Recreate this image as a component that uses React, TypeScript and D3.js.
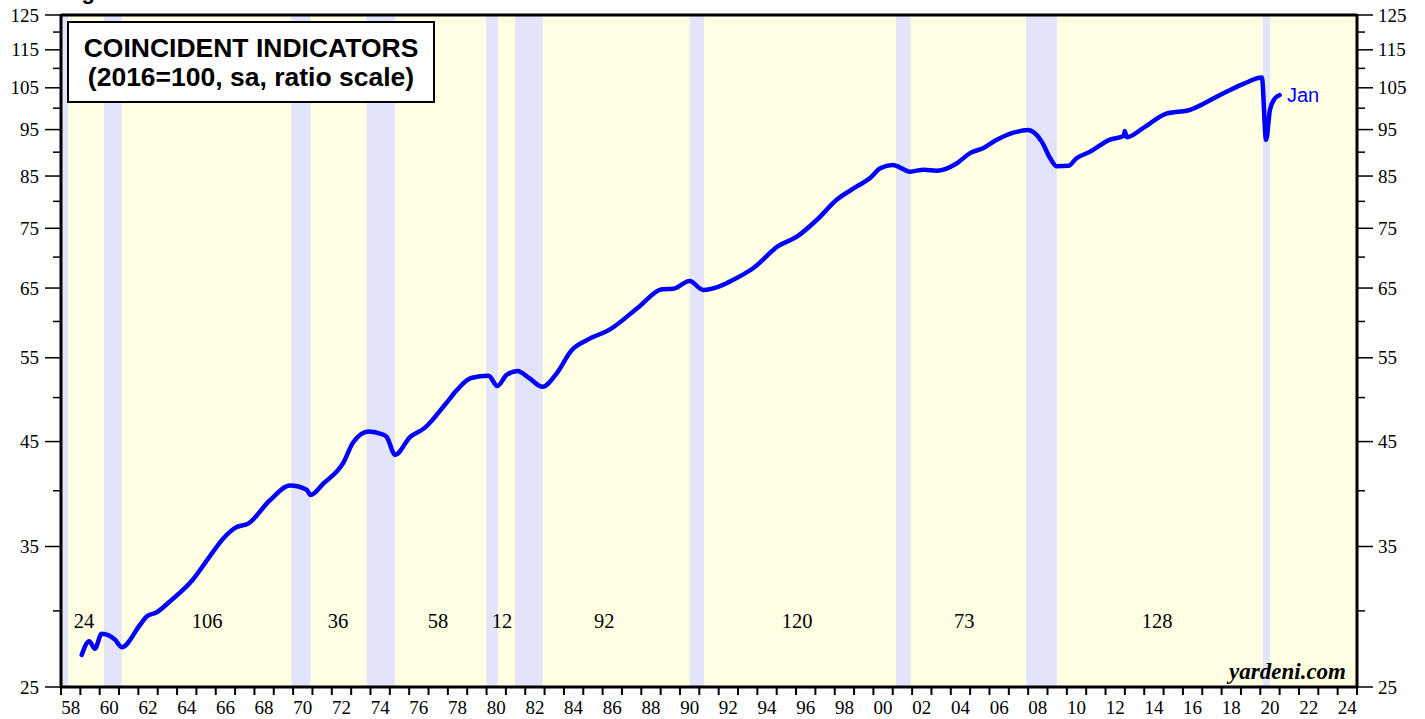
import React from 'react';
import * as d3 from 'd3';

const W = 1425;
const H = 719;
const M = { left: 61, right: 1357, top: 15, bottom: 687 };

// coincident index (decimal year, index)
const years = [
  1959.07, 1959.46, 1959.75, 1960.1, 1960.79, 1961.14, 1962.08, 1962.43, 1962.95, 1963.64,
  1964.8, 1965.7, 1966.4, 1967.0, 1967.7, 1968.8, 1969.84, 1970.7, 1970.9, 1971.56,
  1972.6, 1973.1, 1973.9, 1974.6, 1974.84, 1975.27, 1976.05, 1976.8, 1977.9, 1978.46,
  1979.2, 1980.1, 1980.56, 1981.04, 1981.6, 1982.2, 1982.9, 1983.6, 1984.4, 1985.2,
  1986.4, 1987.9, 1989.06, 1989.66, 1990.5, 1991.2, 1992.07, 1992.76, 1993.8, 1995.09,
  1996.04, 1997.07, 1998.1, 1999.14, 1999.83, 2000.35, 2001.0, 2001.9, 2002.6, 2003.28,
  2004.3, 2005.0, 2005.69, 2006.38, 2007.24, 2008.0, 2008.7, 2009.14, 2009.48, 2010.08,
  2010.5, 2011.2, 2012.2, 2012.95, 2012.99, 2013.1, 2013.96, 2015.08, 2016.37, 2017.92,
  2019.13, 2020.08, 2020.3, 2020.5, 2020.76, 2021.0,
];
const values = [
  27.0, 27.9, 27.4, 28.4, 28.0, 27.5, 29.0, 29.6, 29.9, 30.7,
  32.3, 34.2, 35.7, 36.6, 37.0, 39.1, 40.5, 40.1, 39.6, 40.7,
  42.8, 44.9, 46.1, 45.8, 45.5, 43.6, 45.5, 46.5, 49.3, 50.9,
  52.4, 52.7, 51.4, 52.8, 53.3, 52.4, 51.3, 52.9, 56.0, 57.4,
  58.9, 62.2, 64.8, 64.9, 66.1, 64.7, 65.3, 66.3, 68.2, 71.9,
  73.5, 76.5, 80.3, 82.9, 84.6, 86.6, 87.3, 85.9, 86.3, 86.1,
  87.6, 89.8, 90.9, 92.7, 94.3, 94.9, 92.3, 88.7, 87.0, 87.1,
  88.7, 90.1, 92.7, 93.6, 94.7, 93.3, 95.4, 98.6, 99.6, 103.2,
  106.0, 107.6, 92.7, 99.6, 102.4, 103.2,
];

const recessionStart = [1957.58, 1960.22, 1969.9, 1973.8, 1979.98, 1981.47, 1990.5, 2001.17, 2007.9, 2020.13];
const recessionEnd = [1958.37, 1961.14, 1970.9, 1975.27, 1980.58, 1982.9, 1991.25, 2001.93, 2009.48, 2020.51];

const expansionMonths = ['24', '106', '36', '58', '12', '92', '120', '73', '128'];
const expansionAt = [1959.19, 1965.55, 1972.32, 1977.49, 1980.8, 1986.08, 1996.06, 2004.69, 2014.67];

const yMajor = [25, 35, 45, 55, 65, 75, 85, 95, 105, 115, 125];
const yMinor = [30, 40, 50, 60, 70, 80, 90, 100, 110, 120];
const xYears = d3.range(1958, 2026);
const xLabelYears = d3.range(1958, 2025, 2);

const serif = '"Liberation Serif", "Times New Roman", serif';
const sans = '"Liberation Sans", Arial, sans-serif';

export default function App() {
  const x = d3.scaleLinear().domain([1958, 2025]).range([M.left, M.right]);
  const y = d3.scaleLog().domain([25, 125]).range([M.bottom, M.top]);
  const pts: [number, number][] = years.map((yr, i) => [yr, values[i]]);
  const line = d3
    .line<[number, number]>()
    .x((d) => x(d[0]))
    .y((d) => y(d[1]))
    .curve(d3.curveMonotoneX);

  return (
    <svg
      width={W}
      height={H}
      style={{ position: 'absolute', left: 0, top: 0, background: '#fff' }}
    >
      <text x={62} y={-1} fontFamily={sans} fontWeight="bold" fontSize={22}>
        Figure 1.
      </text>
      <rect x={M.left} y={M.top} width={M.right - M.left} height={M.bottom - M.top} fill="#ffffe3" />
      {recessionStart.map((s, i) => (
        <rect
          key={i}
          x={Math.max(x(s), M.left)}
          y={M.top}
          width={x(recessionEnd[i]) - Math.max(x(s), M.left)}
          height={M.bottom - M.top}
          fill="#e3e3fa"
        />
      ))}
      {expansionMonths.map((t, i) => (
        <text
          key={t + i}
          x={x(expansionAt[i])}
          y={628}
          textAnchor="middle"
          fontFamily={serif}
          fontSize={20.5}
        >
          {t}
        </text>
      ))}
      <path
        d={line(pts) || ''}
        fill="none"
        stroke="#0000ff"
        strokeWidth={4.5}
        strokeLinejoin="round"
        strokeLinecap="round"
      />
      <text x={1287} y={102} fontFamily={sans} fontSize={20} fill="#0000ff">
        Jan
      </text>
      <text
        x={1346}
        y={679}
        textAnchor="end"
        fontFamily={serif}
        fontSize={23}
        fontWeight="bold"
        fontStyle="italic"
      >
        yardeni.com
      </text>

      {/* title box */}
      <rect x={68} y={22} width={366} height={80} fill="#fff" stroke="#000" strokeWidth={2} />
      <text x={251} y={57} textAnchor="middle" fontFamily={sans} fontWeight="bold" fontSize={26.5}>
        COINCIDENT INDICATORS
      </text>
      <text x={251} y={86} textAnchor="middle" fontFamily={sans} fontWeight="bold" fontSize={26.5}>
        (2016=100, sa, ratio scale)
      </text>

      {/* frame */}
      <line x1={M.left} x2={M.right} y1={M.top} y2={M.top} stroke="#000" strokeWidth={3} />
      <line x1={M.left} x2={M.right} y1={M.bottom} y2={M.bottom} stroke="#000" strokeWidth={3} />
      <line x1={M.left} x2={M.left} y1={M.top - 1} y2={M.bottom + 1} stroke="#000" strokeWidth={3} />
      <line x1={M.right} x2={M.right} y1={M.top - 1} y2={M.bottom + 1} stroke="#000" strokeWidth={3} />

      {/* y ticks */}
      {yMajor.map((v) => (
        <g key={'M' + v}>
          <line x1={45} x2={M.left} y1={y(v)} y2={y(v)} stroke="#000" strokeWidth={1.5} />
          <line x1={M.right} x2={1373} y1={y(v)} y2={y(v)} stroke="#000" strokeWidth={1.5} />
          <text x={39} y={y(v)} dy="0.35em" textAnchor="end" fontFamily={serif} fontSize={19}>
            {v}
          </text>
          <text x={1378} y={y(v)} dy="0.35em" fontFamily={serif} fontSize={19}>
            {v}
          </text>
        </g>
      ))}
      {yMinor.map((v) => (
        <g key={'m' + v}>
          <line x1={53} x2={M.left} y1={y(v)} y2={y(v)} stroke="#000" strokeWidth={1.5} />
          <line x1={M.right} x2={1365} y1={y(v)} y2={y(v)} stroke="#000" strokeWidth={1.5} />
        </g>
      ))}

      {/* x ticks */}
      {xYears.map((yr) => (
        <line key={yr} x1={x(yr)} x2={x(yr)} y1={M.bottom} y2={M.bottom + 8} stroke="#000" strokeWidth={2} />
      ))}
      {xLabelYears.map((yr) => (
        <text key={'l' + yr} x={x(yr + 0.5)} y={714} textAnchor="middle" fontFamily={serif} fontSize={19}>
          {String(yr % 100).padStart(2, '0')}
        </text>
      ))}
    </svg>
  );
}
